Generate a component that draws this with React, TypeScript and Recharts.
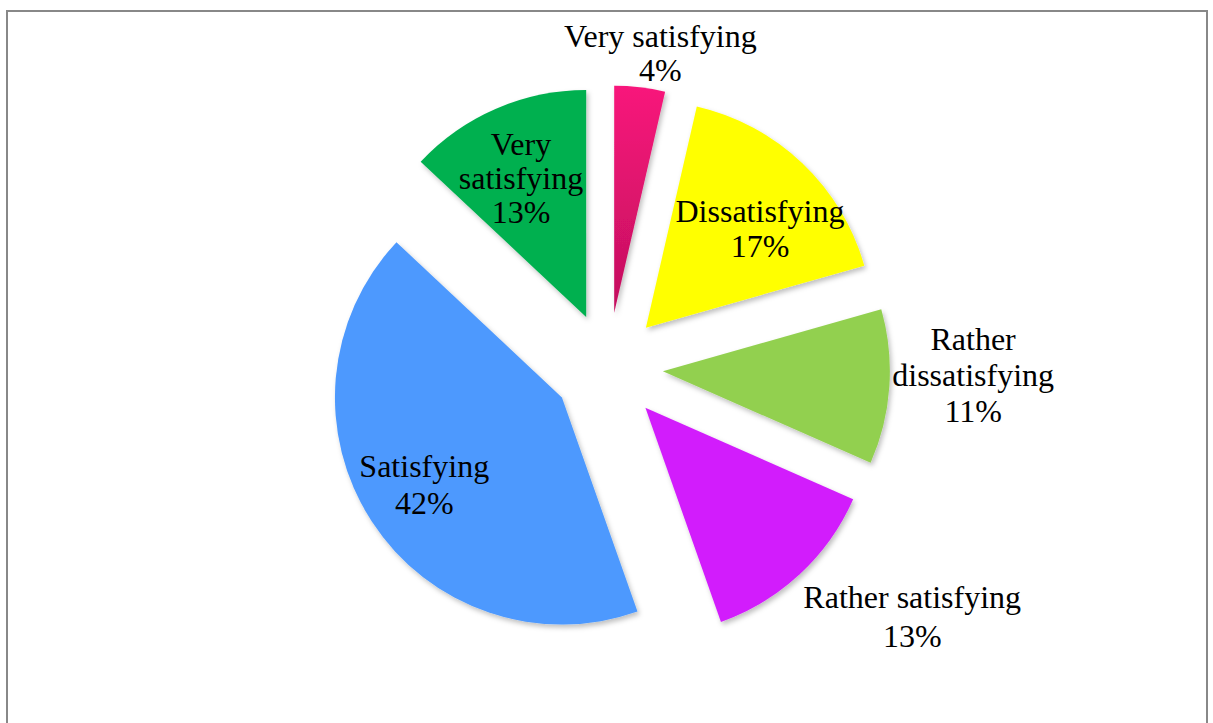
import { PieChart, Pie, Cell } from 'recharts';

// Satisfaction shares (%), clockwise from 12 o'clock; labels show them rounded
const categories = ['Very satisfying', 'Dissatisfying', 'Rather dissatisfying', 'Rather satisfying', 'Satisfying', 'Very satisfying'];
const shares = [3.6, 17, 11, 13, 42.4, 13];

const colors = ['url(#pinkFill)', '#ffff00', '#92d050', '#d21ffc', '#4d99fe', '#00b050'];

// how many words go on each label line
const labelBreaks = [[2], [1], [1, 1], [2], [1], [1, 1]];

// label placement: distance from the slice tip along its middle, a nudge, and line spacing
const labelPlace = [
  { r: 258, dx: 17, dy: -4, lh: 34 },
  { r: 151, dx: 10, dy: 10, lh: 35 },
  { r: 310, dx: 1, dy: -18, lh: 36 },
  { r: 338, dx: 37, dy: -39, lh: 39 },
  { r: 162, dx: -2, dy: -2, lh: 36.5 },
  { r: 154, dx: -4, dy: 2, lh: 34 },
];

const CX = 608;
const CY = 367.5;
const RADIUS = 227;
const EXPLODE = 55;
const FONT = 32;
const FAMILY = "'Liberation Serif', 'Times New Roman', Times, serif";

const data = categories.map((name, i) => ({ name, value: shares[i] }));
const total = shares.reduce((a, b) => a + b, 0);

// middle of every slice in degrees, clockwise from the top
const midAngles = shares.map((v, i) => {
  const before = shares.slice(0, i).reduce((a, b) => a + b, 0);
  return ((before + v / 2) / total) * 360;
});

const splitLabel = (name: string, breaks: number[]) => {
  const words = name.split(' ');
  const lines: string[] = [];
  let pos = 0;
  breaks.forEach((n) => {
    lines.push(words.slice(pos, pos + n).join(' '));
    pos += n;
  });
  if (pos < words.length) lines.push(words.slice(pos).join(' '));
  return lines;
};

const makeLabel = (slice: number) => (props: any) => {
  if (props.index !== slice) return null;
  const { cx, cy, midAngle } = props;
  const rad = (-midAngle * Math.PI) / 180;
  const place = labelPlace[slice];
  const x = cx + place.r * Math.cos(rad) + place.dx;
  const y = cy + place.r * Math.sin(rad) + place.dy;
  const pct = Math.round((shares[slice] / total) * 100);
  const lines = [...splitLabel(categories[slice], labelBreaks[slice]), `${pct}%`];
  const y0 = y - ((lines.length - 1) * place.lh) / 2 + FONT * 0.35;
  return (
    <text
      key={`lbl-${slice}`}
      x={x}
      y={y0}
      textAnchor="middle"
      fill="#000"
      fontSize={FONT}
      fontFamily={FAMILY}
      style={{ fontFamily: FAMILY }}
    >
      {lines.map((line, k) => (
        <tspan key={k} x={x} y={y0 + k * place.lh}>
          {line}
        </tspan>
      ))}
    </text>
  );
};

export default function App() {
  return (
    <div style={{ position: 'absolute', left: 0, top: 0, width: 1213, height: 723, background: '#fff', overflow: 'hidden' }}>
      <div
        style={{
          position: 'absolute',
          left: 6,
          top: 10,
          width: 1202,
          height: 800,
          border: '2px solid #888',
          boxSizing: 'border-box',
        }}
      />
      <div style={{ position: 'absolute', left: 0, top: 0 }}>
        <PieChart width={1213} height={723} margin={{ top: 0, right: 0, bottom: 0, left: 0 }}>
          <defs>
            <linearGradient id="pinkFill" x1="0" y1="0" x2="0" y2="1">
              <stop offset="0%" stopColor="#f8167b" />
              <stop offset="100%" stopColor="#c20f5d" />
            </linearGradient>
            <filter id="sliceShadow" x="-20%" y="-20%" width="140%" height="140%">
              <feDropShadow dx="2" dy="3" stdDeviation="2.5" floodColor="#000" floodOpacity="0.25" />
            </filter>
          </defs>
          {midAngles.map((mid, slice) => {
            const a = (mid * Math.PI) / 180;
            return (
              <Pie
                key={slice}
                data={data}
                dataKey="value"
                nameKey="name"
                cx={CX + EXPLODE * Math.sin(a)}
                cy={CY - EXPLODE * Math.cos(a)}
                innerRadius={0}
                outerRadius={RADIUS}
                startAngle={90}
                endAngle={-270}
                stroke="none"
                label={makeLabel(slice)}
                labelLine={false}
                isAnimationActive={false}
              >
                {data.map((_, i) => (
                  <Cell
                    key={i}
                    fill={i === slice ? colors[i] : 'transparent'}
                    stroke="none"
                    filter={i === slice ? 'url(#sliceShadow)' : undefined}
                  />
                ))}
              </Pie>
            );
          })}
        </PieChart>
      </div>
    </div>
  );
}
